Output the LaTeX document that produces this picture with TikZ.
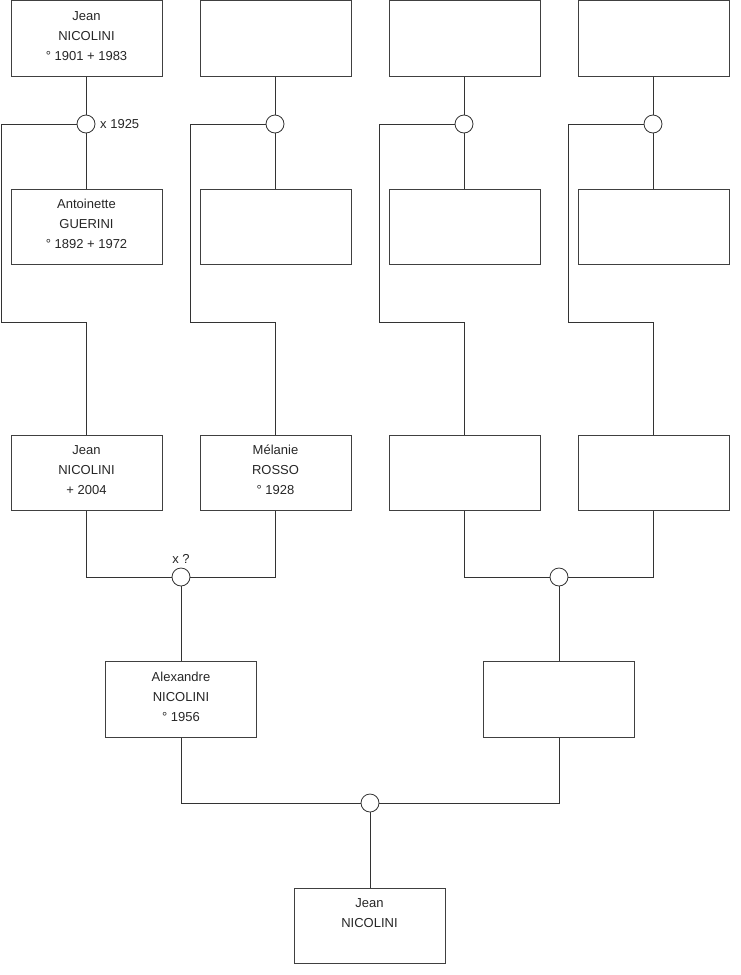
\documentclass[tikz,border=0pt]{standalone}
\usepackage{fontspec}
\setmainfont{Liberation Sans}
\begin{document}
\begin{tikzpicture}[x=1pt,y=-1pt,
  personbox/.style={draw=black!75, line width=0.8pt, rectangle, minimum width=151pt, minimum height=75.5pt, inner sep=0pt},
  ptext/.style={anchor=north, inner sep=0pt, align=center, font=\fontsize{13}{20}\selectfont, text=black!85},
  union/.style={draw=black!80, line width=0.8pt, circle, fill=white, minimum size=18pt, inner sep=0pt},
  link/.style={draw=black!80, line width=0.8pt}]
\useasboundingbox (0,0) rectangle (740,975);
% row 1
\node[personbox] (a1) at (86.5,38.5) {};
\node[personbox] (a2) at (275.5,38.5) {};
\node[personbox] (a3) at (464.5,38.5) {};
\node[personbox] (a4) at (653.5,38.5) {};
% row 2
\node[personbox] (b1) at (86.5,227) {};
\node[personbox] (b2) at (275.5,227) {};
\node[personbox] (b3) at (464.5,227) {};
\node[personbox] (b4) at (653.5,227) {};
% row 3
\node[personbox] (c1) at (86.5,473) {};
\node[personbox] (c2) at (275.5,473) {};
\node[personbox] (c3) at (464.5,473) {};
\node[personbox] (c4) at (653.5,473) {};
% row 4
\node[personbox] (d1) at (181,699.5) {};
\node[personbox] (d2) at (558.5,699.5) {};
% bottom
\node[personbox] (e1) at (369.5,926) {};
% texts
\node[ptext] (ta1) at ([yshift=-5.5pt]a1.north) {\strut Jean\\NICOLINI\\° 1901 + 1983};
\node[ptext] (tb1) at ([yshift=-5.5pt]b1.north) {\strut Antoinette\\GUERINI\\° 1892 + 1972};
\node[ptext] (tc1) at ([yshift=-5.5pt]c1.north) {\strut Jean\\NICOLINI\\+ 2004};
\node[ptext] (tc2) at ([yshift=-5.5pt]c2.north) {\strut Mélanie\\ROSSO\\° 1928};
\node[ptext] (td1) at ([yshift=-5.5pt]d1.north) {\strut Alexandre\\NICOLINI\\° 1956};
\node[ptext] (te1) at ([yshift=-5.5pt]e1.north) {\strut Jean\\NICOLINI};
% unions
\node[union] (u1) at (86,124) {};
\node[union] (u2) at (275,124) {};
\node[union] (u3) at (464,124) {};
\node[union] (u4) at (653,124) {};
\node[union] (v1) at (181,577) {};
\node[union] (v2) at (559,577) {};
\node[union] (w1) at (370,803) {};
% union labels
\node[anchor=west, inner sep=0pt, font=\fontsize{13}{14}\selectfont, text=black!85] (l1) at (100,124) {x 1925};
\node[anchor=south, inner sep=0pt, font=\fontsize{13}{14}\selectfont, text=black!85] (l2) at (181,563.5) {x ?};
% side corners
\coordinate (k1) at (1,124);
\coordinate (k2) at (190,124);
\coordinate (k3) at (379,124);
\coordinate (k4) at (568,124);
\coordinate (m1) at (1,322);
\coordinate (m2) at (190,322);
\coordinate (m3) at (379,322);
\coordinate (m4) at (568,322);
% connectors generation 1
\foreach \i in {1,2,3,4}{
  \draw[link] (a\i.south -| u\i) -- (u\i.north);
  \draw[link] (u\i.south) -- (b\i.north -| u\i);
  \draw[link] (u\i.west) -- (k\i) -- (m\i) -| (c\i.north -| u\i);
}
% generation 2
\draw[link] (c1.south -| u1) |- (v1.west);
\draw[link] (c2.south -| u2) |- (v1.east);
\draw[link] (c3.south -| u3) |- (v2.west);
\draw[link] (c4.south -| u4) |- (v2.east);
\draw[link] (v1.south) -- (d1.north -| v1);
\draw[link] (v2.south) -- (d2.north -| v2);
% generation 3
\draw[link] (d1.south -| v1) |- (w1.west);
\draw[link] (d2.south -| v2) |- (w1.east);
\draw[link] (w1.south) -- (e1.north -| w1);
\end{tikzpicture}
\end{document}
